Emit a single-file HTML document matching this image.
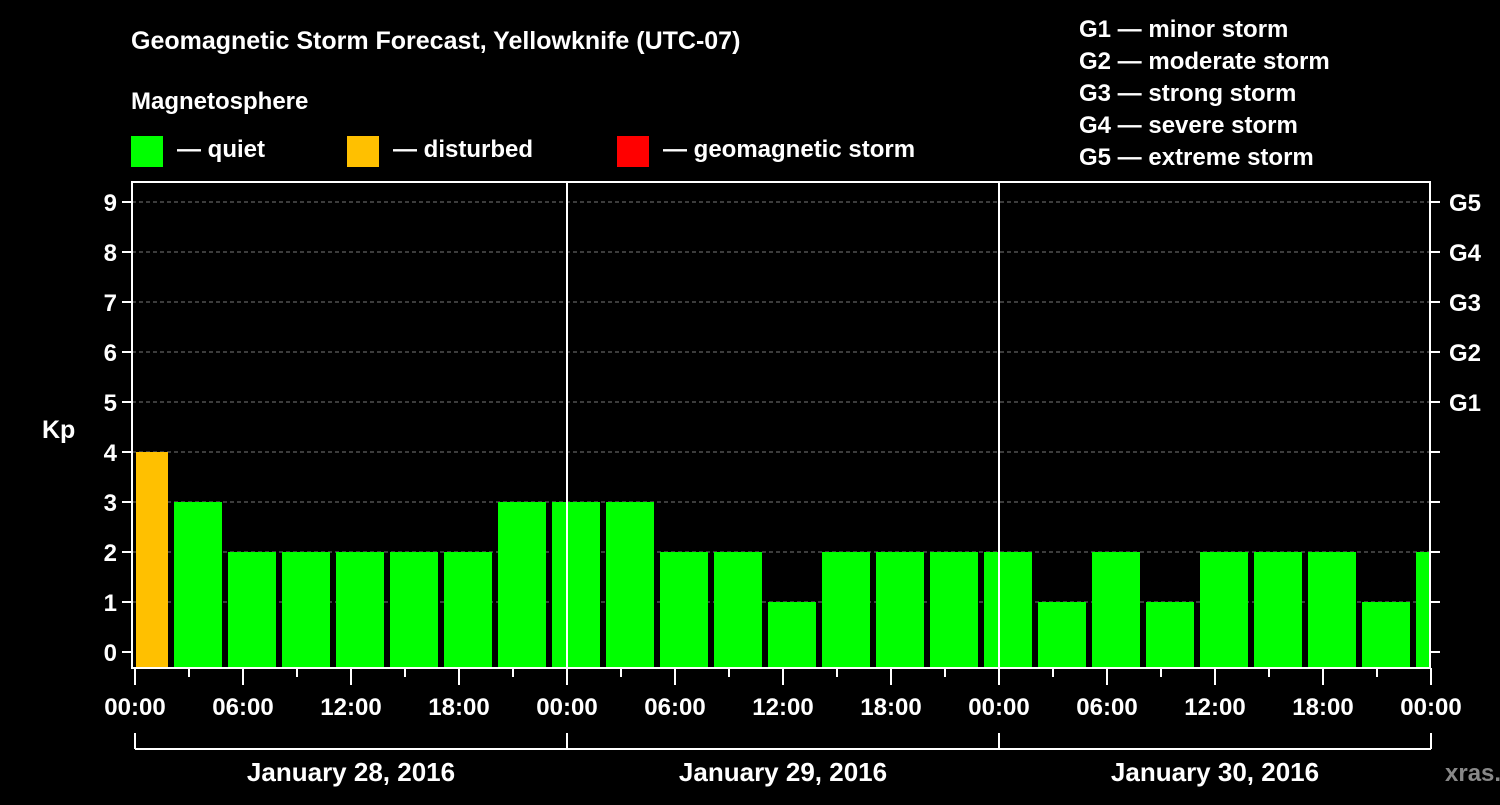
<!DOCTYPE html>
<html><head><meta charset="utf-8"><style>
body{margin:0;background:#000;width:1500px;height:800px;overflow:hidden}
svg text{font-family:"Liberation Sans",sans-serif;font-weight:bold;fill:#fff}
</style></head><body>
<svg width="1500" height="800" id="chart">
<text x="131" y="49" font-size="25">Geomagnetic Storm Forecast, Yellowknife (UTC-07)</text>
<text x="131" y="109" font-size="24">Magnetosphere</text>
<rect x="131" y="136" width="32" height="31" fill="#00ff00"/>
<text x="177" y="157" font-size="24">— quiet</text>
<rect x="347" y="136" width="32" height="31" fill="#ffc000"/>
<text x="393" y="157" font-size="24">— disturbed</text>
<rect x="617" y="136" width="32" height="31" fill="#ff0000"/>
<text x="663" y="157" font-size="24">— geomagnetic storm</text>
<g font-size="24">
<text x="1079" y="37">G1 — minor storm</text>
<text x="1079" y="69">G2 — moderate storm</text>
<text x="1079" y="101">G3 — strong storm</text>
<text x="1079" y="133">G4 — severe storm</text>
<text x="1079" y="165">G5 — extreme storm</text>
</g>
<text x="42" y="438" font-size="25">Kp</text>
<text x="1445" y="781" font-size="24" fill="#888" style="fill:#888">xras.ru</text>
<g id="plot"></g>
</svg>
<script>
const kpValues=[4,3,2,2,2,2,2,3,3,3,2,2,1,2,2,2,2,1,2,1,2,2,2,1,2];
const yTicks=[0,1,2,3,4,5,6,7,8,9];
const gLabels=["G1","G2","G3","G4","G5"];
const hourLabels=["00:00","06:00","12:00","18:00","00:00","06:00","12:00","18:00","00:00","06:00","12:00","18:00","00:00"];
const dayLabels=["January 28, 2016","January 29, 2016","January 30, 2016"];
const firstSlotHour=-1, slotHours=3;
const L=132,R=1430,T=182,B=668;
const x=h=>135+h*18;
const y=v=>652-v*50;
const NS="http://www.w3.org/2000/svg";
const g=document.getElementById('plot');
function mk(t,a,txt){const e=document.createElementNS(NS,t);for(const k in a)e.setAttribute(k,a[k]);if(txt!=null)e.textContent=txt;g.appendChild(e);return e;}
yTicks.forEach(v=>{if(v>0){const l=mk('line',{x1:L,x2:R,y1:y(v),y2:y(v),stroke:'#777','stroke-dasharray':'4,3'});

}
const t=mk('line',{x1:L-10,x2:L,y1:y(v),y2:y(v),stroke:'#fff','stroke-width':2});


const rt=mk('line',{x1:R,x2:R+10,y1:y(v),y2:y(v),stroke:'#fff','stroke-width':2});


const lb=mk('text',{x:L-15,y:y(v)+9,'font-size':24,'text-anchor':'end'},String(v));

});
gLabels.forEach((s,i)=>{const t=mk('text',{x:1449,y:y(5+i)+9,'font-size':24},s);

});
kpValues.forEach((v,i)=>{const h0=firstSlotHour+i*slotHours;let x0=x(h0)+3,x1=x(h0+slotHours)-3;x0=Math.max(x0,L+4);x1=Math.min(x1,R);
const r=mk('rect',{x:x0,y:y(v),width:x1-x0,height:B-y(v),fill:v>=5?'#ff0000':(v>=4?'#ffc000':'#00ff00')});

});
[24,48].forEach(h=>{const l=mk('line',{x1:x(h),x2:x(h),y1:T,y2:B,stroke:'#fff','stroke-width':2});

});
const f=mk('rect',{x:L,y:T,width:R-L,height:B-T,fill:'none',stroke:'#fff','stroke-width':2});


for(let h=0;h<=72;h+=3){const t=mk('line',{x1:x(h),x2:x(h),y1:B,y2:B+(h%6==0?17:9),stroke:'#fff','stroke-width':2});

}
hourLabels.forEach((s,i)=>{const t=mk('text',{x:x(i*6),y:715,'font-size':24,'text-anchor':'middle'},s);

});
const br=mk('line',{x1:x(0),x2:x(72),y1:749,y2:749,stroke:'#fff','stroke-width':2});


[0,24,48,72].forEach(h=>{const t=mk('line',{x1:x(h),x2:x(h),y1:733,y2:749,stroke:'#fff','stroke-width':2});

});
dayLabels.forEach((s,i)=>{const t=mk('text',{x:x(i*24+12),y:781,'font-size':26,'text-anchor':'middle'},s);

});
</script>
</body></html>
